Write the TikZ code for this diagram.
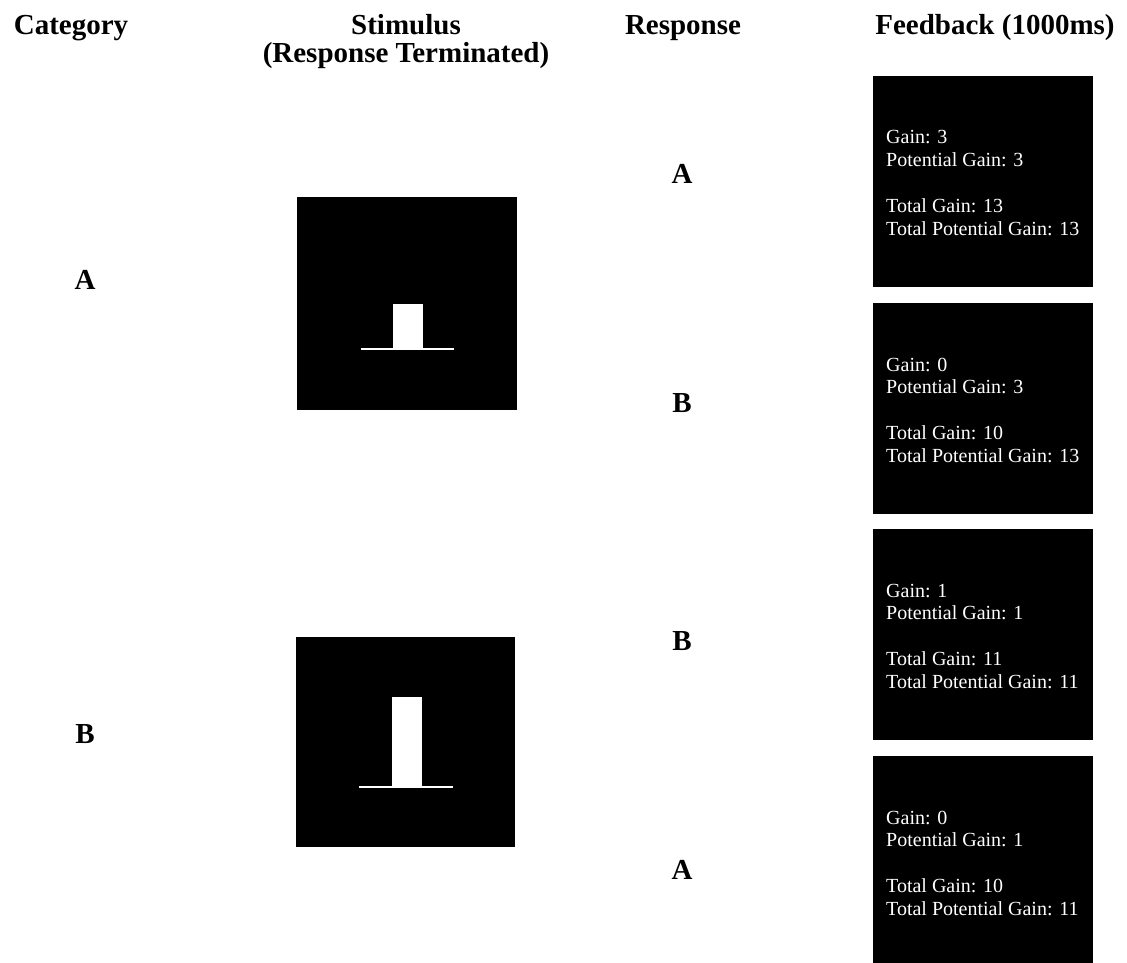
\documentclass[tikz,border=0pt]{standalone}
\usepackage{fontspec}
\setmainfont{Liberation Serif}
\begin{document}
\begin{tikzpicture}[x=1pt,y=-1pt,
  head/.style={font=\fontsize{29}{31}\selectfont\bfseries, anchor=base, inner sep=0pt},
  lab/.style={font=\fontsize{29}{31}\selectfont\bfseries, anchor=base, inner sep=0pt},
  panel/.style={fill=black, draw=none, inner sep=0pt},
  fbline/.style={font=\fontsize{20}{22.5}\selectfont, text=white, anchor=base west, inner sep=0pt},
  ground/.style={draw=white, line width=1.5pt}]
\useasboundingbox (0,0) rectangle (1127,963);
\fill[white] (0,0) rectangle (1127,963);

% column headings
\node[head] (hcat)   at (71,35)  {Category};
\node[head] (hstim)  at (406,35) {Stimulus};
\node[head] (hstimb) at (406,63) {(Response Terminated)};
\node[head] (hresp)  at (683,35) {Response};
\node[head] (hfb)    at (995,35) {Feedback (1000ms)};

% category labels
\node[lab] (catA) at (85,289) {A};
\node[lab] (catB) at (85,743) {B};

% stimulus A: short bar on a ground line
\node[panel, minimum width=220pt, minimum height=213pt] (stimA) at (407,303.5) {};
\fill[white] (393,304) rectangle (423,349);
\draw[ground] (361,349) -- (454,349);

% stimulus B: tall bar on a ground line
\node[panel, minimum width=219pt, minimum height=210pt] (stimB) at (405.5,742) {};
\fill[white] (392,697) rectangle (422,787);
\draw[ground] (359,787) -- (453,787);

% response labels
\node[lab] (r1) at (682,183) {A};
\node[lab] (r2) at (682,412) {B};
\node[lab] (r3) at (682,650) {B};
\node[lab] (r4) at (682,879) {A};

% feedback screens
\newcommand{\fbscreen}[6]{%
  \node[panel, minimum width=220pt, minimum height=211pt, anchor=north west] (#1) at (873,#2) {};
  \node[fbline] (#1a) at (886,#2+68)    {Gain: #3};
  \node[fbline] (#1b) at (886,#2+90)    {Potential Gain: #4};
  \node[fbline] (#1c) at (886,#2+136.5) {Total Gain: #5};
  \node[fbline] (#1d) at (886,#2+159.5) {Total Potential Gain: #6};
}
\fbscreen{fbA}{76}{3}{3}{13}{13}
\fbscreen{fbB}{303}{0}{3}{10}{13}
\fbscreen{fbC}{529}{1}{1}{11}{11}
\fbscreen{fbD}{756}{0}{1}{10}{11}
\end{tikzpicture}
\end{document}
